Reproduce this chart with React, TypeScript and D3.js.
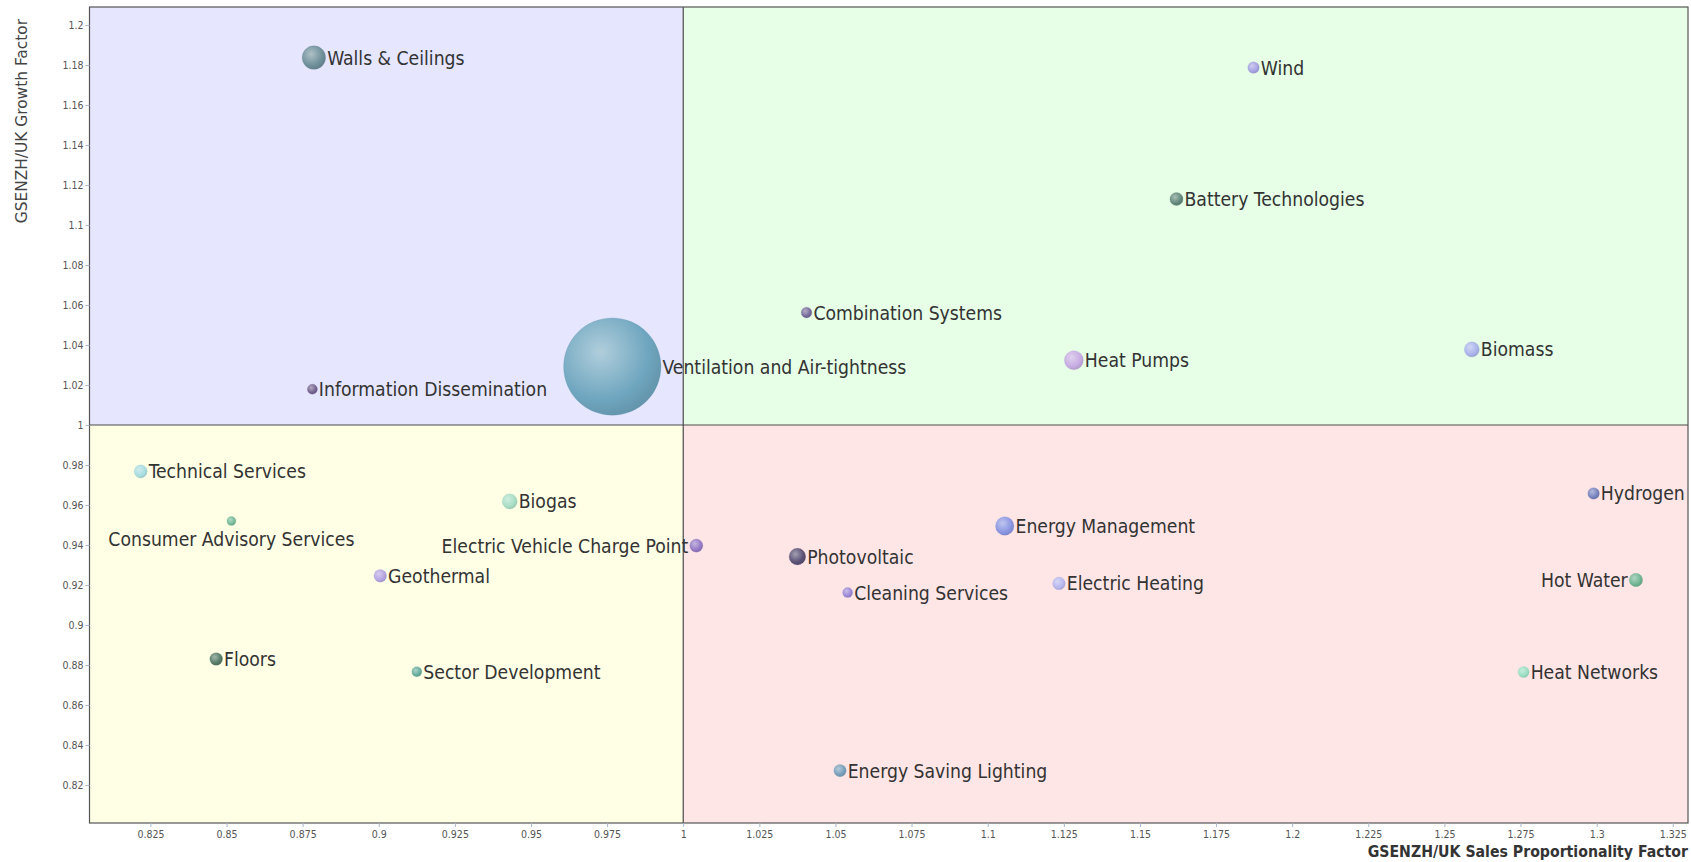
import React, { useEffect, useRef } from "react";
import { select, scaleLinear, scaleSqrt, axisLeft, axisBottom, rgb, interpolateRgb } from "d3";

const categories = [
  "Walls & Ceilings",
  "Wind",
  "Battery Technologies",
  "Combination Systems",
  "Heat Pumps",
  "Biomass",
  "Ventilation and Air-tightness",
  "Information Dissemination",
  "Technical Services",
  "Consumer Advisory Services",
  "Biogas",
  "Electric Vehicle Charge Point",
  "Geothermal",
  "Floors",
  "Sector Development",
  "Energy Management",
  "Photovoltaic",
  "Cleaning Services",
  "Electric Heating",
  "Hydrogen",
  "Hot Water",
  "Heat Networks",
  "Energy Saving Lighting",
];

// GSENZH/UK sales proportionality factor
const salesFactor = [
  0.8787, 1.1873, 1.162, 1.0405, 1.1283, 1.259, 0.9767, 0.8782, 0.8218, 0.8516,
  0.943, 1.0043, 0.9005, 0.8466, 0.9125, 1.1056, 1.0375, 1.054, 1.1234, 1.299,
  1.3129, 1.276, 1.0515,
];

// GSENZH/UK growth factor
const growthFactor = [
  1.1837, 1.1787, 1.113, 1.0562, 1.0324, 1.0378, 1.0292, 1.0179, 0.9768, 0.952,
  0.9618, 0.9397, 0.9246, 0.883, 0.8766, 0.9495, 0.9342, 0.9162, 0.9208, 0.9658,
  0.9225, 0.8765, 0.8272,
];

const bubbleSize = [
  5.8, 1.4, 1.8, 1.2, 3.8, 2.4, 100, 1.05, 1.8, 0.85, 2.4, 1.8, 1.7, 1.7, 1.05,
  3.6, 2.9, 1.05, 1.7, 1.4, 1.9, 1.3, 1.6,
];

const bubbleColor = [
  "#6e8f9a", "#a6a2e2", "#62877a", "#76699a", "#c6ace2", "#aab4ea", "#6fa6bf",
  "#74628f", "#a8dde0", "#74bb98", "#a8dec4", "#9479c6", "#b4a4e2", "#557a66",
  "#66ad9c", "#8a96e2", "#5a5175", "#9c88d6", "#b6b6ee", "#7582bd", "#6fb492",
  "#9adec4", "#779fbb",
];

const labelSide = [
  "right", "right", "right", "right", "right", "right", "right", "right", "right",
  "below", "right", "left", "right", "right", "right", "right", "right", "right",
  "right", "right", "left", "right", "right",
];

const xTicks = [
  0.825, 0.85, 0.875, 0.9, 0.925, 0.95, 0.975, 1, 1.025, 1.05, 1.075, 1.1, 1.125,
  1.15, 1.175, 1.2, 1.225, 1.25, 1.275, 1.3, 1.325,
];
const yTicks = [
  0.82, 0.84, 0.86, 0.88, 0.9, 0.92, 0.94, 0.96, 0.98, 1, 1.02, 1.04, 1.06, 1.08,
  1.1, 1.12, 1.14, 1.16, 1.18, 1.2,
];

const quadrantColors = ["#e6e6ff", "#e6ffe6", "#ffffe6", "#ffe6e6"];

const W = 1691;
const H = 862;
const plotLeft = 89.5;
const plotRight = 1688;
const plotTop = 7;
const plotBottom = 823;
const labelFont = "'DejaVu Sans Condensed', 'DejaVu Sans', sans-serif";

const App = () => {
  const svgRef = useRef(null);

  useEffect(() => {
    const svg = select(svgRef.current);
    svg.selectAll("*").remove();

    const xScale = scaleLinear().domain([0.805, 1.33]).range([plotLeft, plotRight]);
    const yScale = scaleLinear().domain([0.801, 1.209]).range([plotBottom, plotTop]);
    const rScale = scaleSqrt().domain([0, 100]).range([0, 48.7]);

    const defs = svg.append("defs");
    bubbleColor.forEach((c, i) => {
      const g = defs
        .append("radialGradient")
        .attr("id", `bub${i}`)
        .attr("cx", "38%")
        .attr("cy", "35%")
        .attr("r", "70%");
      g.append("stop")
        .attr("offset", "0%")
        .attr("stop-color", interpolateRgb(c, "#ffffff")(0.45));
      g.append("stop").attr("offset", "70%").attr("stop-color", c);
      g.append("stop")
        .attr("offset", "100%")
        .attr("stop-color", rgb(c).darker(0.35).toString());
    });

    // quadrants
    const x1 = xScale(1);
    const y1 = yScale(1);
    const quads = [
      [plotLeft, plotTop, x1 - plotLeft, y1 - plotTop],
      [x1, plotTop, plotRight - x1, y1 - plotTop],
      [plotLeft, y1, x1 - plotLeft, plotBottom - y1],
      [x1, y1, plotRight - x1, plotBottom - y1],
    ];
    quads.forEach((q, i) => {
      svg
        .append("rect")
        .attr("x", q[0])
        .attr("y", q[1])
        .attr("width", q[2])
        .attr("height", q[3])
        .attr("fill", quadrantColors[i]);
    });

    svg
      .append("line")
      .attr("x1", x1)
      .attr("x2", x1)
      .attr("y1", plotTop)
      .attr("y2", plotBottom)
      .attr("stroke", "#4a4a4a")
      .attr("stroke-width", 1.2);
    svg
      .append("line")
      .attr("x1", plotLeft)
      .attr("x2", plotRight)
      .attr("y1", y1)
      .attr("y2", y1)
      .attr("stroke", "#4a4a4a")
      .attr("stroke-width", 1.2);

    svg
      .append("rect")
      .attr("x", plotLeft)
      .attr("y", plotTop)
      .attr("width", plotRight - plotLeft)
      .attr("height", plotBottom - plotTop)
      .attr("fill", "none")
      .attr("stroke", "#555")
      .attr("stroke-width", 1.2);

    // axes
    const yAxis = axisLeft(yScale)
      .tickValues(yTicks)
      .tickSize(4)
      .tickPadding(2)
      .tickFormat((d) => String(d));
    svg
      .append("g")
      .attr("transform", `translate(${plotLeft},0)`)
      .call(yAxis)
      .call((g) => g.select(".domain").remove())
      .call((g) => g.selectAll(".tick line").attr("stroke", "#a9b8cc"))
      .call((g) =>
        g
          .selectAll("text")
          .attr("fill", "#555")
          .style("font-family", labelFont)
          .style("font-size", "10.5px"),
      );

    const xAxis = axisBottom(xScale)
      .tickValues(xTicks)
      .tickSize(4)
      .tickPadding(4)
      .tickFormat((d) => String(d));
    svg
      .append("g")
      .attr("transform", `translate(0,${plotBottom})`)
      .call(xAxis)
      .call((g) => g.select(".domain").remove())
      .call((g) => g.selectAll(".tick line").attr("stroke", "#a9b8cc"))
      .call((g) =>
        g
          .selectAll("text")
          .attr("fill", "#555")
          .style("font-family", labelFont)
          .style("font-size", "10.5px"),
      );

    svg
      .append("text")
      .attr("transform", `translate(27,19) rotate(-90)`)
      .attr("text-anchor", "end")
      .attr("fill", "#444")
      .style("font-family", "'DejaVu Sans', sans-serif")
      .style("font-size", "15.4px")
      .text("GSENZH/UK Growth Factor");

    svg
      .append("text")
      .attr("x", plotRight)
      .attr("y", 857)
      .attr("text-anchor", "end")
      .attr("fill", "#333")
      .style("font-family", labelFont)
      .style("font-weight", "bold")
      .style("font-size", "15.7px")
      .text("GSENZH/UK Sales Proportionality Factor");

    // bubbles
    const points = categories.map((name, i) => ({
      name,
      x: xScale(salesFactor[i]),
      y: yScale(growthFactor[i]),
      r: rScale(bubbleSize[i]),
      side: labelSide[i],
      i,
    }));

    svg
      .append("g")
      .selectAll("circle")
      .data(points)
      .join("circle")
      .attr("cx", (d) => d.x)
      .attr("cy", (d) => d.y)
      .attr("r", (d) => d.r)
      .attr("fill", (d) => `url(#bub${d.i})`)
      .attr("stroke", (d) => rgb(bubbleColor[d.i]).darker(0.2).toString())
      .attr("stroke-opacity", 0.4)
      .attr("stroke-width", 0.6);

    svg
      .append("g")
      .selectAll("text")
      .data(points)
      .join("text")
      .attr("x", (d) =>
        d.side === "left" ? d.x - d.r - 1.5 : d.side === "below" ? d.x : d.x + d.r + 1.5,
      )
      .attr("y", (d) => (d.side === "below" ? d.y + d.r + 14 : d.y))
      .attr("dy", "0.36em")
      .attr("text-anchor", (d) =>
        d.side === "left" ? "end" : d.side === "below" ? "middle" : "start",
      )
      .attr("fill", "#333")
      .style("font-family", labelFont)
      .style("font-size", "19.2px")
      .text((d) => d.name);
  }, []);

  return (
    <svg
      ref={svgRef}
      width={W}
      height={H}
      style={{ position: "absolute", left: 0, top: 0, background: "#fff" }}
    />
  );
};

export default App;
